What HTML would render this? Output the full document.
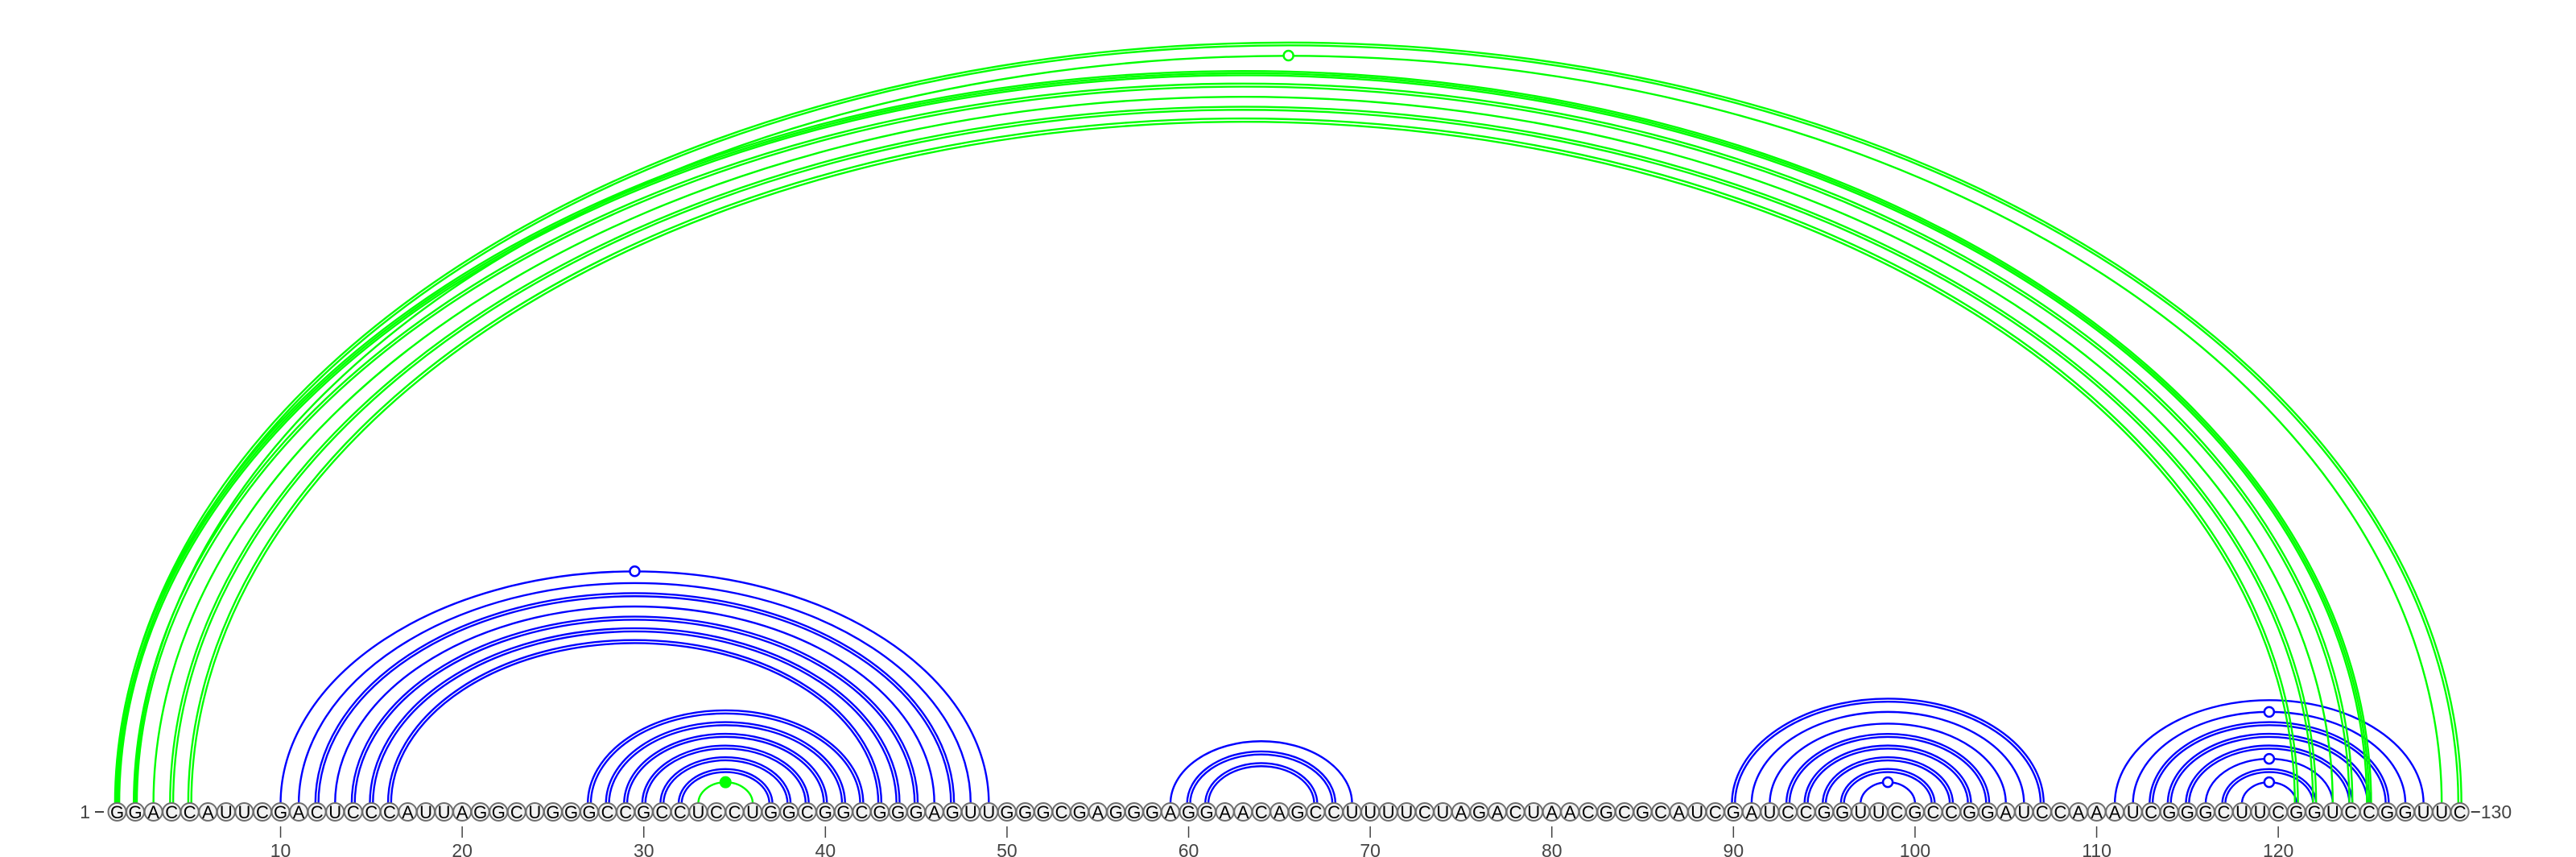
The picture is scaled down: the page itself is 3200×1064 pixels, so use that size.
<!DOCTYPE html>
<html>
<head>
<meta charset="utf-8">
<style>
  html,body{margin:0;padding:0;background:#fff;}
  svg{display:block;}
  text{font-family:"Liberation Sans","DejaVu Sans",sans-serif;}
</style>
</head>
<body>
<svg id="chart" width="3200" height="1064" viewBox="0 0 3200 1064" xmlns="http://www.w3.org/2000/svg">
  <g id="arcs"></g>
  <g id="bases"></g>
  <g id="axis"></g>
</svg>
<script>
const sequence = "GGACCAUUCGACUCCCAUUAGGCUGGGCCGCCUCCUGGCGGCGGGAGUUGGGCGAGGGAGGAACAGCCUUUUCUAGACUAACGCGCAUCGAUCCGGUUCGCCGGAUCCAAAUCGGGCUUCGGUCCGGUUC";
// blue pairs: [i, j, strokeCount]
const bluePairs = [
  [10,49,1],[11,48,1],[12,47,2],[13,46,1],[14,45,2],[15,44,2],[16,43,2],
  [27,42,2],[28,41,2],[29,40,2],[30,39,2],[31,38,2],[32,37,2],
  [59,69,1],[60,68,2],[61,67,2],
  [90,107,2],[91,106,1],[92,105,1],[93,104,2],[94,103,2],[95,102,2],[96,101,2],[97,100,1],
  [111,128,1],[112,127,1],[113,126,2],[114,125,2],[115,124,2],[116,123,1],[117,122,2],[118,121,1]
];
const greenPairs = [
  [1,130,2],[2,129,1],[1,125,3],[2,124,2],[3,123,1],[4,122,2],[5,121,2],[33,36,1]
];
const hollowMarkers = [[10,49,'blue'],[97,100,'blue'],[118,121,'blue'],[116,123,'blue'],[112,127,'blue'],[2,129,'green']];
const filledMarkers = [[33,36,'green']];
const tickPositions = [10,20,30,40,50,60,70,80,90,100,110,120];

const NS = "http://www.w3.org/2000/svg";
const X0 = 145.5, DX = 22.56, BASE = 1008, R = 11;
const COLORS = {blue:'#0000ff', green:'#00ff00'};
function xOf(p){ return X0 + (p-1)*DX; }
function heightOf(hw){ return 0.645*hw + 15; }
function mk(tag, attrs, parent){
  const e = document.createElementNS(NS, tag);
  for (const k in attrs) e.setAttribute(k, attrs[k]);
  parent.appendChild(e);
  return e;
}
const arcs = document.getElementById('arcs');
const bases = document.getElementById('bases');
const axis = document.getElementById('axis');

function drawArc(pair, color){
  const [i,j,n] = pair;
  const x1 = xOf(i), x2 = xOf(j);
  const hw = (x2-x1)/2, h = heightOf(hw);
  const offs = n===1?[0]:(n===2?[-1.9,1.9]:[-2.6,0,2.6]);
  offs.forEach(o=>{
    const rx = hw + o, ry = h - 10 + o;
    const p = mk('path', {d:`M ${x1-o} ${BASE-10} A ${rx} ${ry} 0 0 1 ${x2+o} ${BASE-10}`, fill:'none', stroke:COLORS[color], 'stroke-width':2.4}, arcs);
    
    
  });
}
bluePairs.forEach(p=>drawArc(p,'blue'));
greenPairs.forEach(p=>drawArc(p,'green'));

function markerPos(i,j){
  const x1 = xOf(i), x2 = xOf(j);
  const hw = (x2-x1)/2;
  return [(x1+x2)/2, BASE - heightOf(hw)];
}
hollowMarkers.forEach(m=>{
  const [cx,cy] = markerPos(m[0],m[1]);
  const c = mk('circle', {cx:cx, cy:cy, r:6, fill:'#fff', stroke:COLORS[m[2]], 'stroke-width':2.5}, arcs);
  
  
});
filledMarkers.forEach(m=>{
  const [cx,cy] = markerPos(m[0],m[1]);
  const c = mk('circle', {cx:cx, cy:cy, r:7, fill:COLORS[m[2]], stroke:COLORS[m[2]], 'stroke-width':1}, arcs);
  
  
});

for (let k=0;k<sequence.length;k++){
  const p = k+1, x = xOf(p);
  const g = mk('g', {}, bases);
  
  
  mk('circle', {cx:x, cy:BASE, r:R, fill:'#f2f2f2', stroke:'#6e6e6e', 'stroke-width':2}, g);
  const t = mk('text', {x:x, y:BASE+8, 'text-anchor':'middle', 'font-size':22, fill:'#000'}, g);
  t.textContent = sequence[k];
}

const l1 = mk('text', {x:112, y:BASE+8, 'text-anchor':'end', 'font-size':23, fill:'#444'}, axis);
l1.textContent = '1';


mk('line', {x1:118, y1:BASE, x2:129, y2:BASE, stroke:'#444', 'stroke-width':2}, axis);
mk('line', {x1:xOf(130)+14, y1:BASE, x2:xOf(130)+25, y2:BASE, stroke:'#444', 'stroke-width':2}, axis);
const l2 = mk('text', {x:xOf(130)+26, y:BASE+8, 'text-anchor':'start', 'font-size':23, fill:'#444'}, axis);
l2.textContent = '130';



tickPositions.forEach(p=>{
  const x = xOf(p);
  const ln = mk('line', {x1:x, y1:1026, x2:x, y2:1040, stroke:'#444', 'stroke-width':1.5}, axis);
  
  
  const t = mk('text', {x:x, y:1064, 'text-anchor':'middle', 'font-size':23, fill:'#444'}, axis);
  t.textContent = String(p);
  
  
});
</script>
</body>
</html>
